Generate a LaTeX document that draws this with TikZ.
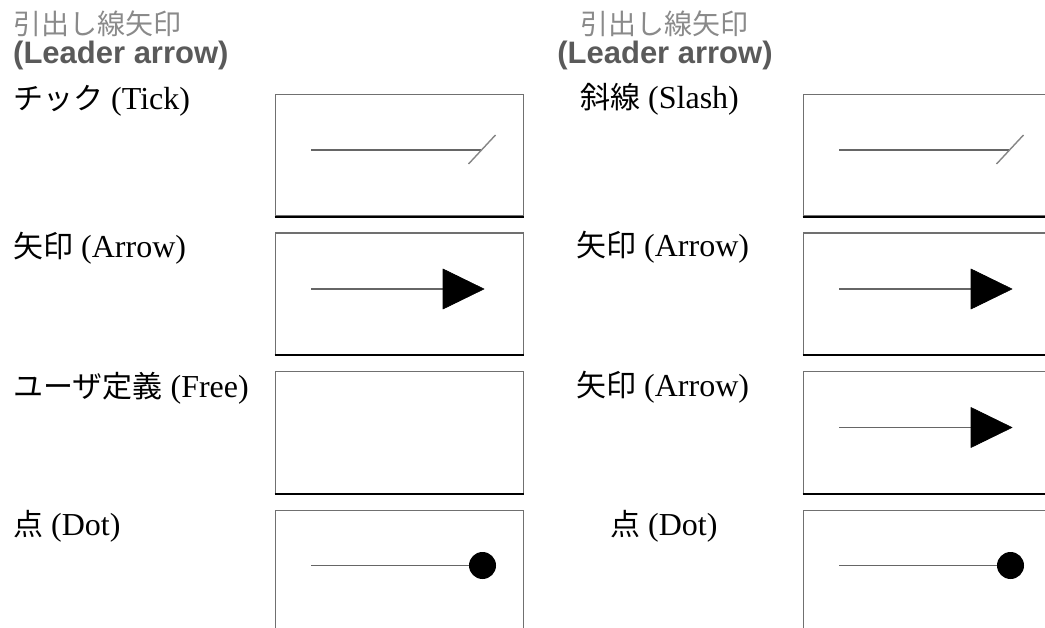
\documentclass[tikz,border=0pt]{standalone}
\usepackage{fontspec}
\setmainfont{Liberation Serif}
\newfontfamily\cjkfam{Noto Sans CJK JP}
\newcommand{\jp}[1]{{\cjkfam\fontsize{30}{36}\selectfont #1}}
\newfontfamily\hdrfont{Liberation Sans}
\usetikzlibrary{calc}
\definecolor{hdrgray}{HTML}{8A8A8A}
\definecolor{hdrdark}{HTML}{5A5A5A}
\definecolor{boxgray}{HTML}{707070}
\definecolor{leadgray}{HTML}{666666}
\tikzset{
  hdrcjk/.style={inner sep=0pt, text=hdrgray, font=\cjkfam\fontsize{28}{32}\selectfont},
  hdrlat/.style={inner sep=0pt, text=hdrdark, font=\hdrfont\bfseries\fontsize{31}{36}\selectfont},
  rowlabel/.style={inner sep=0pt, anchor=base west, font=\fontsize{32}{38}\selectfont},
  samplebox/.style={draw=boxgray, line width=1.4pt, minimum width=248.5pt, minimum height=121.5pt, inner sep=0pt, anchor=north west},
  boxbottom/.style={draw=black, line width=2pt},
  leader/.style={draw=leadgray, line width=1.4pt},
  ticklead/.style={draw=leadgray!80, line width=1.4pt},
  headfill/.style={fill=black, draw=black, line width=0.6pt, line join=round}
}
\begin{document}
\begin{tikzpicture}[x=1pt,y=-1pt]
\useasboundingbox (0,0) rectangle (1045,628);
% headers
\node[hdrcjk, anchor=base west] (h1a) at (13,35) {引出し線矢印};
\node[hdrlat, anchor=base west] (h1b) at (13,64) {(Leader arrow)};
\node[hdrcjk, anchor=base] (h2a) at (664,35) {引出し線矢印};
\node[hdrlat, anchor=base] (h2b) at (665,64) {(Leader arrow)};
% row labels left
\node[rowlabel] (l1) at (13,110) {\jp{チック} (Tick)};
\node[rowlabel] (l2) at (13,258) {\jp{矢印} (Arrow)};
\node[rowlabel] (l3) at (13,398) {\jp{ユーザ定義} (Free)};
\node[rowlabel] (l4) at (13,535) {\jp{点} (Dot)};
% row labels right
\node[rowlabel] (r1) at (580,109) {\jp{斜線} (Slash)};
\node[rowlabel] (r2) at (576,257) {\jp{矢印} (Arrow)};
\node[rowlabel] (r3) at (576,397) {\jp{矢印} (Arrow)};
\node[rowlabel] (r4) at (610,535) {\jp{点} (Dot)};
% boxes
\foreach \c/\bx in {A/274.5, B/802.5}{
  \foreach \r/\by in {1/94, 2/232.5, 3/371, 4/509.5}{
    \node[samplebox] (box\c\r) at (\bx,\by) {};
    \draw[boxbottom] (box\c\r.south west) -- (box\c\r.south east);
  }
}
% contents
\foreach \c in {A,B}{
  % tick / slash
  \coordinate (s\c1) at ($(box\c1.north west)+(36.5,56)$);
  \coordinate (e\c1) at ($(box\c1.north west)+(206,56)$);
  \coordinate (ta\c1) at ($(box\c1.north west)+(194,70)$);
  \coordinate (tb\c1) at ($(box\c1.north west)+(221,41)$);
  \draw[leader] (s\c1) -- (e\c1);
  \draw[ticklead] (ta\c1) -- (tb\c1);
  % dot
  \coordinate (s\c4) at ($(box\c4.north west)+(36.5,56)$);
  \coordinate (d\c4) at ($(box\c4.north west)+(208,56)$);
  \draw[leader] (s\c4) -- (d\c4);
  \fill (d\c4) circle (13.5);
}
\foreach \c/\r in {A/2, B/2, B/3}{
  \coordinate (s\c\r) at ($(box\c\r.north west)+(36.5,56.5)$);
  \coordinate (e\c\r) at ($(box\c\r.north west)+(168.5,56.5)$);
  \coordinate (tip\c\r) at ($(box\c\r.north west)+(209.5,56.5)$);
  \draw[leader] (s\c\r) -- (e\c\r);
  \draw[headfill] (tip\c\r) -- ($(e\c\r)+(0,-20)$) -- ($(e\c\r)+(0,20)$) -- cycle;
}
\end{tikzpicture}
\end{document}
